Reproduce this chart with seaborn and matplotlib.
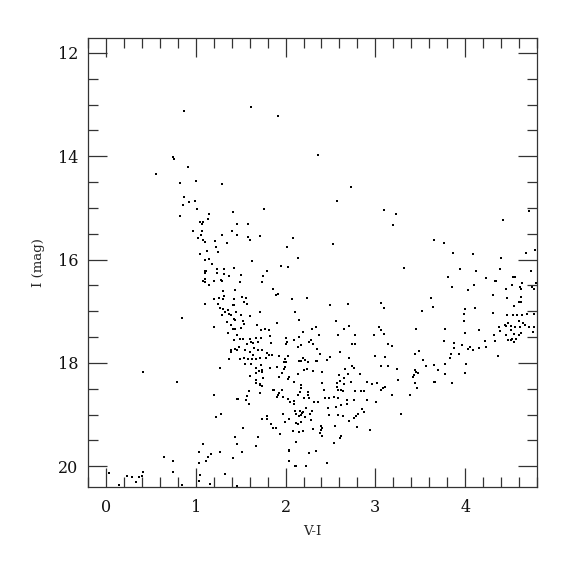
import matplotlib
matplotlib.use("Agg")
import matplotlib.pyplot as plt
from matplotlib.ticker import MultipleLocator
import seaborn as sns
import pandas as pd

# V-I colour and I magnitude
vi = [
    0.871, 0.748, 0.759, 0.915, 0.556, 0.826, 1.000, 1.296,
    1.619, 1.915, 2.363, 2.734,
    0.874, 0.926, 0.989, 0.860, 1.015, 0.819, 1.152, 1.415, 1.133, 1.048, 1.086, 1.074,
    1.460, 0.974, 1.070, 1.404, 1.063, 1.293, 1.460, 1.022, 1.082, 1.104, 1.211, 1.344,
    1.230, 1.126, 1.252, 1.048, 1.148, 1.104, 1.182, 1.430, 1.100, 1.119, 1.104, 1.237,
    1.315, 1.233, 1.315, 1.374, 1.100, 1.086, 1.104, 1.204, 1.278, 1.296, 1.144, 1.436,
    1.304, 1.315, 1.263, 1.204, 1.304, 1.426, 1.248, 1.104, 1.426, 1.411, 1.270, 1.307,
    1.359, 1.330, 1.370, 1.389, 1.452, 1.289, 0.844, 1.422, 1.441, 1.344, 1.396, 1.204,
    1.419, 1.441, 1.363, 1.456,
    2.571, 1.756, 3.097, 1.586, 1.586, 1.604, 1.715, 2.078, 2.011, 2.530, 2.137, 1.623,
    1.944, 2.022, 1.793, 1.504, 1.749, 1.489, 1.738, 1.863, 1.893, 1.919, 2.067, 2.241,
    1.519, 1.560, 1.541, 1.574, 2.500, 2.693, 3.060, 3.100, 1.719, 2.104, 1.508, 1.604,
    2.145, 2.560, 1.526, 1.537, 1.686, 1.908, 1.500, 2.337, 2.300, 2.708, 2.656, 2.197,
    3.037, 3.063, 1.730, 1.767, 1.815, 2.371, 2.582, 2.771, 2.989, 3.097, 1.826, 2.008,
    2.149, 1.674, 1.730,
    3.233, 3.197, 4.708, 4.419, 3.648, 3.767, 3.863, 4.082, 4.404, 4.674, 4.774, 3.322,
    3.937, 4.126, 4.393, 4.737, 3.804, 4.237, 4.330, 4.341, 4.533, 4.556, 4.633, 4.789,
    3.848, 4.100, 4.030, 4.522, 4.615, 4.456, 4.626, 4.744, 4.767, 4.315, 3.615, 4.463,
    4.619, 4.597, 4.619, 4.545, 3.644, 3.993, 4.108, 3.519, 3.982, 4.311, 4.467, 4.533,
    4.574, 4.630, 4.686, 4.771, 3.989, 4.597, 4.482, 4.515, 4.648, 4.663, 4.448, 4.456,
    4.556, 4.611, 4.715, 4.767, 4.378, 3.448, 3.774, 4.159, 4.389, 4.508, 4.759, 3.993,
    4.322, 4.452, 4.548, 4.597, 4.622,
    1.426, 1.396, 1.389, 1.441, 1.456, 1.367, 0.411, 1.274, 0.793, 1.204, 1.456, 1.226,
    1.285, 1.441, 1.456, 1.078, 1.041, 1.274, 1.174, 1.137, 1.115, 1.041, 1.419, 0.641,
    0.752, 0.741, 0.034, 1.048, 1.041, 1.322, 0.411, 0.233, 0.285, 0.363, 0.396, 0.337,
    0.145, 0.848, 1.163, 1.460, 1.511, 1.667, 2.037, 2.040, 2.107,
    1.493, 1.526, 1.600, 1.571, 1.619, 1.633, 1.693, 1.838, 2.019, 2.008, 2.089, 2.256,
    2.278, 2.311, 2.174, 2.134, 1.478, 1.545, 1.648, 1.600, 1.693, 1.733, 1.641, 1.793,
    1.819, 1.849, 1.922, 2.022, 2.352, 2.378, 2.611, 2.744, 2.771, 2.993, 3.104, 1.493,
    1.541, 1.578, 1.626, 1.670, 1.715, 1.778, 1.993, 1.978, 2.004, 2.193, 2.211, 2.174,
    2.152, 2.252, 2.341, 2.352, 2.460, 2.493, 2.711, 1.615, 1.545, 1.726, 1.826, 1.900,
    1.989, 1.667, 1.704, 1.741, 1.733, 1.670, 1.982, 1.963, 2.208, 2.238, 2.311, 2.404,
    2.667, 2.741, 2.767, 2.697, 2.826, 3.060, 1.604, 1.922, 2.022, 2.033, 2.141, 2.593,
    2.656, 1.670, 1.670, 1.719, 1.737, 1.715, 1.752, 2.089, 2.171, 2.171, 2.411, 2.571,
    2.611, 2.648, 2.733, 2.911, 2.963, 3.015, 2.574, 2.619, 2.589, 2.637, 2.774, 2.837,
    2.878, 3.067, 3.080, 3.107, 2.433, 1.856, 1.871, 1.960, 1.922, 1.593, 2.252, 2.252,
    2.159, 2.141, 1.715, 1.574, 1.900, 1.919, 1.970, 2.026, 2.048, 2.093, 2.097, 2.200,
    2.260, 1.563, 1.474, 1.593, 2.322, 2.356, 2.437, 2.481, 2.541, 2.585, 2.681, 2.767,
    2.911, 3.011, 2.615, 2.563, 2.681, 2.471, 2.226, 2.156, 2.300, 2.104, 2.197, 2.182,
    2.271, 1.967, 2.119, 2.149, 2.174, 2.219, 2.278, 2.481, 2.585, 2.637, 2.759, 2.785,
    2.856, 2.871, 2.811, 2.704, 1.741, 1.789, 1.797, 2.041, 1.838, 1.863, 1.897, 1.997,
    1.937, 2.115, 2.137, 2.171, 2.082, 2.152, 2.193, 2.308, 2.393, 2.411, 2.400, 2.385,
    2.411, 2.548, 2.622, 2.611, 2.793, 2.941, 1.530, 1.689, 2.119, 2.537, 2.037, 2.256,
    2.337, 2.111, 2.233, 2.463,
    3.137, 3.182, 3.759, 3.874, 3.960, 4.222, 4.237, 4.337, 4.478, 4.511, 4.522, 4.571,
    4.548, 3.874, 4.033, 4.052, 4.082, 4.159, 3.441, 3.482, 3.837, 3.826, 3.933, 4.370,
    3.526, 3.137, 3.567, 3.656, 3.778, 4.008, 3.237, 3.693, 3.441, 3.448, 3.470, 3.430,
    3.419, 3.774, 3.997, 3.252, 3.656, 3.667, 3.437, 3.848, 3.459, 3.182, 3.385, 3.282,
]
imag = [
    13.13, 14.02, 14.06, 14.21, 14.34, 14.52, 14.48, 14.54,
    13.05, 13.21, 13.98, 14.59,
    14.79, 14.88, 14.86, 14.94, 15.02, 15.15, 15.12, 15.08, 15.21, 15.27, 15.27, 15.31,
    15.31, 15.45, 15.45, 15.44, 15.52, 15.52, 15.52, 15.59, 15.62, 15.66, 15.63, 15.68,
    15.75, 15.83, 15.86, 15.90, 15.99, 16.01, 16.08, 16.17, 16.22, 16.22, 16.25, 16.18,
    16.18, 16.25, 16.27, 16.32, 16.37, 16.41, 16.43, 16.41, 16.39, 16.41, 16.49, 16.59,
    16.61, 16.70, 16.74, 16.76, 16.76, 16.76, 16.86, 16.86, 16.87, 16.88, 16.93, 16.95,
    16.97, 17.01, 17.05, 17.07, 17.01, 17.08, 17.12, 17.15, 17.16, 17.20, 17.26, 17.30,
    17.34, 17.34, 17.41, 17.45,
    14.86, 15.01, 15.04, 15.31, 15.56, 15.61, 15.54, 15.59, 15.76, 15.69, 15.97, 16.03,
    16.12, 16.14, 16.22, 16.30, 16.32, 16.43, 16.43, 16.56, 16.69, 16.67, 16.77, 16.74,
    16.72, 16.74, 16.81, 16.85, 16.88, 16.85, 16.83, 16.94, 17.01, 17.01, 17.08, 17.09,
    17.17, 17.18, 17.19, 17.25, 17.26, 17.23, 17.32, 17.30, 17.34, 17.28, 17.35, 17.40,
    17.30, 17.36, 17.37, 17.34, 17.37, 17.46, 17.45, 17.45, 17.45, 17.44, 17.47, 17.51,
    17.50, 17.51, 17.51,
    15.11, 15.32, 15.06, 15.24, 15.61, 15.68, 15.88, 15.90, 15.97, 15.88, 15.81, 16.17,
    16.19, 16.21, 16.19, 16.21, 16.33, 16.35, 16.41, 16.41, 16.33, 16.33, 16.45, 16.45,
    16.53, 16.50, 16.58, 16.50, 16.52, 16.56, 16.57, 16.53, 16.56, 16.68, 16.74, 16.75,
    16.72, 16.82, 16.82, 16.90, 16.91, 16.95, 16.94, 17.00, 17.05, 17.03, 17.08, 17.07,
    17.07, 17.08, 17.06, 17.06, 17.19, 17.18, 17.23, 17.28, 17.22, 17.27, 17.26, 17.28,
    17.31, 17.30, 17.30, 17.30, 17.31, 17.34, 17.35, 17.37, 17.39, 17.37, 17.40, 17.42,
    17.45, 17.46, 17.44, 17.46, 17.42,
    17.55, 17.75, 17.78, 17.72, 17.75, 17.92, 18.17, 18.10, 18.37, 18.62, 18.69, 19.04,
    18.99, 19.44, 19.57, 19.57, 19.72, 19.72, 19.76, 19.81, 19.90, 19.93, 19.84, 19.82,
    19.89, 20.11, 20.13, 20.17, 20.28, 20.14, 20.11, 20.19, 20.21, 20.21, 20.19, 20.31,
    20.37, 20.37, 20.34, 20.38, 19.72, 19.61, 19.68, 19.89, 19.99,
    17.53, 17.53, 17.54, 17.63, 17.60, 17.62, 17.59, 17.61, 17.59, 17.63, 17.55, 17.59,
    17.56, 17.63, 17.66, 17.69, 17.69, 17.74, 17.71, 17.79, 17.75, 17.75, 17.85, 17.81,
    17.84, 17.84, 17.86, 17.87, 17.72, 17.82, 17.78, 17.63, 17.63, 17.87, 17.88, 17.92,
    17.90, 17.92, 17.92, 17.92, 17.91, 17.91, 17.93, 17.98, 17.99, 17.90, 17.94, 17.96,
    17.97, 17.99, 17.96, 17.96, 17.94, 17.89, 17.90, 18.01, 18.02, 18.03, 18.09, 18.07,
    18.07, 18.10, 18.15, 18.13, 18.17, 18.19, 18.12, 18.20, 18.14, 18.11, 18.15, 18.17,
    18.12, 18.06, 18.09, 18.21, 18.21, 18.06, 18.26, 18.28, 18.31, 18.28, 18.21, 18.23,
    18.29, 18.32, 18.39, 18.40, 18.44, 18.42, 18.30, 18.36, 18.42, 18.48, 18.39, 18.38,
    18.35, 18.40, 18.37, 18.36, 18.40, 18.39, 18.47, 18.53, 18.52, 18.55, 18.54, 18.54,
    18.54, 18.52, 18.48, 18.47, 18.52, 18.53, 18.52, 18.52, 18.59, 18.54, 18.56, 18.61,
    18.57, 18.61, 18.59, 18.64, 18.66, 18.62, 18.65, 18.69, 18.75, 18.73, 18.79, 18.68,
    18.68, 18.71, 18.70, 18.79, 18.75, 18.75, 18.68, 18.68, 18.66, 18.68, 18.72, 18.72,
    18.72, 18.75, 18.82, 18.86, 18.79, 18.88, 18.87, 18.92, 18.92, 18.93, 18.95, 18.97,
    18.99, 18.99, 18.99, 19.03, 19.01, 19.04, 19.10, 19.01, 19.01, 19.03, 19.06, 19.03,
    18.90, 18.95, 18.99, 19.13, 19.08, 19.03, 19.08, 19.08, 19.19, 19.26, 19.25, 19.14,
    19.37, 19.16, 19.18, 19.15, 19.32, 19.33, 19.32, 19.27, 19.22, 19.26, 19.30, 19.36,
    19.41, 19.21, 19.41, 19.45, 19.23, 19.29, 19.26, 19.44, 19.53, 19.55, 19.70, 19.74,
    19.70, 19.99, 20.00, 19.94,
    17.63, 17.68, 17.57, 17.61, 17.66, 17.58, 17.70, 17.57, 17.55, 17.56, 17.54, 17.53,
    17.60, 17.71, 17.72, 17.69, 17.74, 17.71, 17.82, 17.76, 17.83, 17.90, 17.82, 17.86,
    17.94, 18.05, 18.06, 18.04, 18.01, 18.01, 18.12, 18.14, 18.14, 18.18, 18.19, 18.23,
    18.28, 18.22, 18.19, 18.32, 18.37, 18.37, 18.39, 18.38, 18.48, 18.62, 18.61, 18.99,
]

n = min(len(vi), len(imag))
df = pd.DataFrame({"V-I": vi[:n], "I (mag)": imag[:n]})

sns.set_theme(style="ticks")
plt.rcParams["font.family"] = ["DejaVu Serif"]

fig = plt.figure(figsize=(5.75, 5.75), dpi=100)
ax = fig.add_axes([88 / 575, 1 - 487 / 575, (537 - 88) / 575, (487 - 38) / 575])

sns.scatterplot(data=df, x="V-I", y="I (mag)", ax=ax, marker="s", s=3,
                color="black", linewidth=0, legend=False)

ax.set_xlim(-0.2, 4.8)
ax.set_ylim(20.4, 11.71)
ax.xaxis.set_major_locator(MultipleLocator(1))
ax.xaxis.set_minor_locator(MultipleLocator(0.2))
ax.yaxis.set_major_locator(MultipleLocator(2))
ax.yaxis.set_minor_locator(MultipleLocator(0.5))
ax.tick_params(which="both", direction="in", top=True, right=True, width=0.9, color="#333333")
ax.tick_params(which="major", length=13.5)
ax.tick_params(which="minor", length=7)
ax.tick_params(axis="x", which="major", pad=9, labelsize=11.5, labelcolor="#111111")
ax.tick_params(axis="y", which="major", pad=7, labelsize=11.5, labelcolor="#111111")
for s in ax.spines.values():
    s.set_linewidth(0.9)
    s.set_color("#333333")

ax.set_xlabel("V-I", fontsize=9.5, labelpad=6)
ax.set_ylabel("I (mag)", fontsize=9.5, labelpad=9)

fig.savefig("out.png", dpi=100)
